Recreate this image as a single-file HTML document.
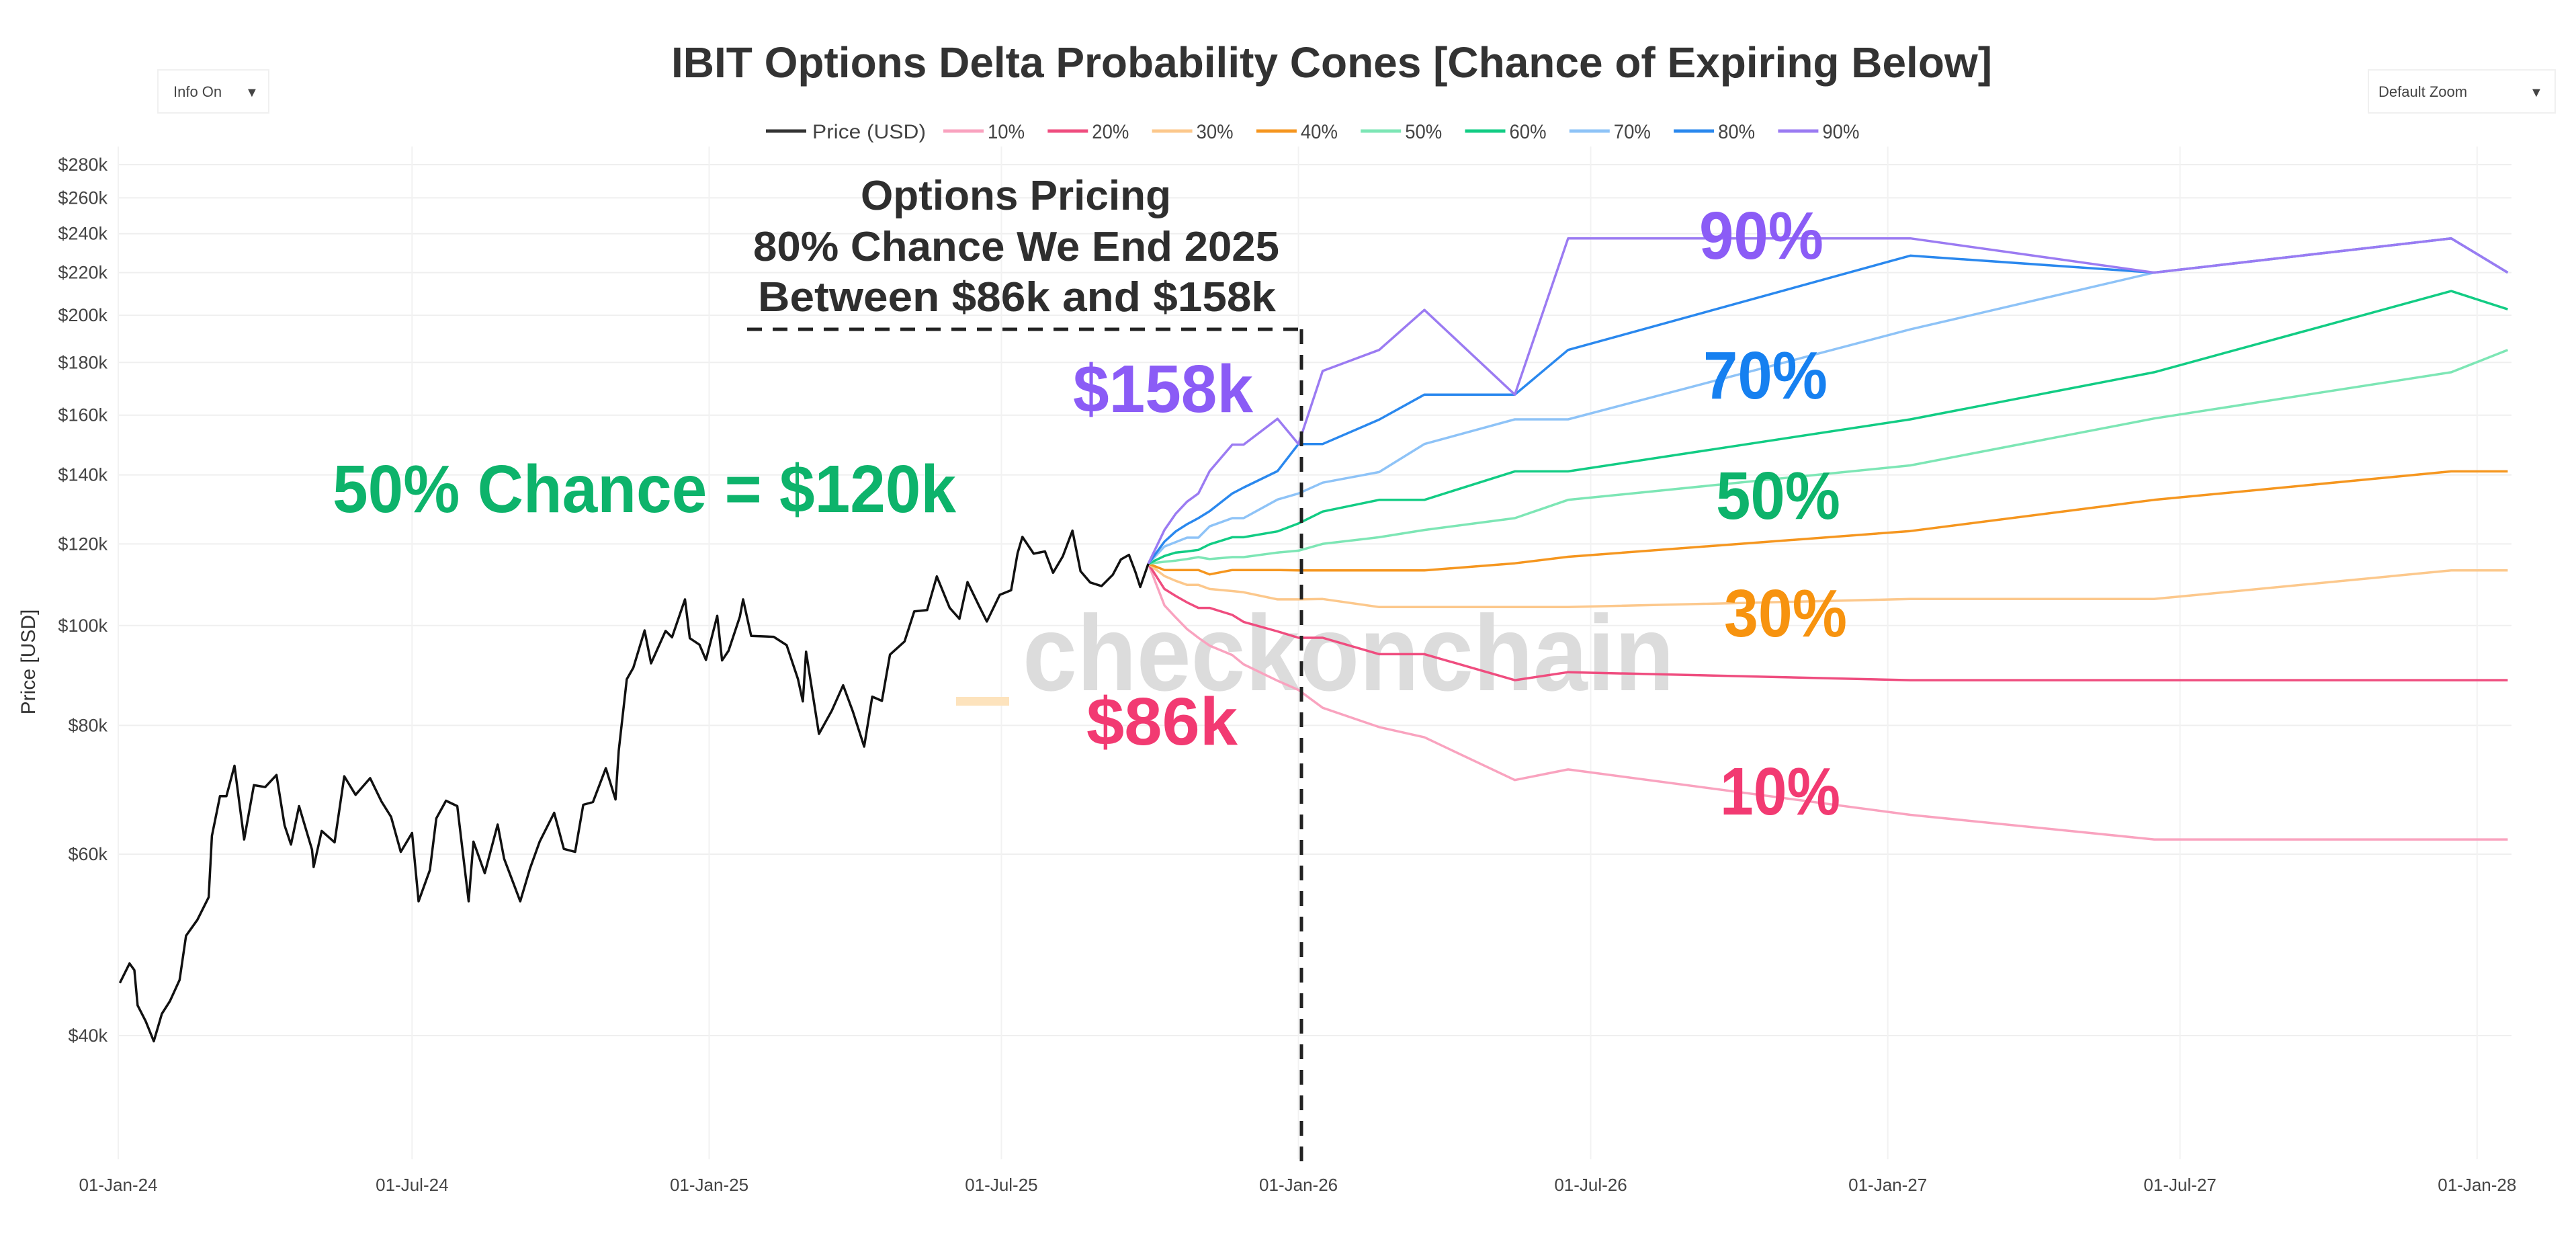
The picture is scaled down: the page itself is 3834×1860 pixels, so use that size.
<!DOCTYPE html>
<html><head><meta charset="utf-8"><title>IBIT Options Delta Probability Cones</title>
<style>
html,body{margin:0;padding:0;background:#fff;}
svg{display:block;font-family:"Liberation Sans",sans-serif;}
</style></head>
<body>
<svg id="chart" width="3834" height="1860" viewBox="0 0 3834 1860" xmlns="http://www.w3.org/2000/svg">
<rect width="3834" height="1860" fill="#fff"/>
<g id="grid"></g>
<g id="yticks"></g>
<g id="xticks"></g>
<text x="1522" y="1027" font-size="160" font-weight="bold" fill="#dcdcdc" textLength="970" lengthAdjust="spacingAndGlyphs">checkonchain</text>
<rect x="1423" y="1037" width="79" height="13" fill="#fde3bd"/>
<g id="series"></g>
<line x1="1112" y1="490" x2="1937" y2="490" stroke="#222" stroke-width="5" stroke-dasharray="22,16"/>
<line x1="1937" y1="490" x2="1937" y2="1744" stroke="#222" stroke-width="5" stroke-dasharray="22,16"/>
<text x="999" y="115" font-size="64" font-weight="bold" fill="#333" textLength="1966" lengthAdjust="spacingAndGlyphs">IBIT Options Delta Probability Cones [Chance of Expiring Below]</text>
<g>
<rect x="235" y="104" width="165" height="64" fill="#fff" stroke="#f0f0f0" stroke-width="2"/>
<text x="258" y="144" font-size="22" fill="#444">Info On</text>
<text x="365" y="144" font-size="20" fill="#444">▼</text>
</g>
<g>
<rect x="3525" y="104" width="278" height="64" fill="#fff" stroke="#f0f0f0" stroke-width="2"/>
<text x="3540" y="144" font-size="22" fill="#444">Default Zoom</text>
<text x="3765" y="144" font-size="20" fill="#444">▼</text>
</g>
<g id="legend"></g>
<text transform="translate(52,985) rotate(-90)" text-anchor="middle" font-size="30" fill="#333">Price [USD]</text>
<g font-weight="bold" fill="#2e2e2e" font-size="62">
<text x="1281" y="312" textLength="462" lengthAdjust="spacingAndGlyphs">Options Pricing</text>
<text x="1121" y="388" textLength="783" lengthAdjust="spacingAndGlyphs">80% Chance We End 2025</text>
<text x="1128" y="463" textLength="771" lengthAdjust="spacingAndGlyphs">Between $86k and $158k</text>
</g>
<text x="1597" y="613" font-size="100" font-weight="bold" fill="#8b5cf6" textLength="268" lengthAdjust="spacingAndGlyphs">$158k</text>
<text x="1617" y="1108" font-size="100" font-weight="bold" fill="#f23a72" textLength="225" lengthAdjust="spacingAndGlyphs">$86k</text>
<text x="495" y="762" font-size="100" font-weight="bold" fill="#0db36b" textLength="928" lengthAdjust="spacingAndGlyphs">50% Chance = $120k</text>
<text x="2529" y="385" font-size="100" font-weight="bold" fill="#8b5cf6" textLength="185" lengthAdjust="spacingAndGlyphs">90%</text>
<text x="2535" y="593" font-size="100" font-weight="bold" fill="#1680f0" textLength="185" lengthAdjust="spacingAndGlyphs">70%</text>
<text x="2554" y="772" font-size="100" font-weight="bold" fill="#0db36b" textLength="185" lengthAdjust="spacingAndGlyphs">50%</text>
<text x="2566" y="947" font-size="100" font-weight="bold" fill="#f7930f" textLength="183" lengthAdjust="spacingAndGlyphs">30%</text>
<text x="2560" y="1212" font-size="100" font-weight="bold" fill="#f23a72" textLength="179" lengthAdjust="spacingAndGlyphs">10%</text>
</svg>
<script>
const yTickValues = [40,60,80,100,120,140,160,180,200,220,240,260,280];
const xTickDates = ["2024-01-01","2024-07-01","2025-01-01","2025-07-01","2026-01-01","2026-07-01","2027-01-01","2027-07-01","2028-01-01"];
const xTickLabels = ["01-Jan-24","01-Jul-24","01-Jan-25","01-Jul-25","01-Jan-26","01-Jul-26","01-Jan-27","01-Jul-27","01-Jan-28"];
const priceDates = ["2024-01-02","2024-01-08","2024-01-11","2024-01-13","2024-01-18","2024-01-23","2024-01-28","2024-02-02","2024-02-08","2024-02-12","2024-02-19","2024-02-26","2024-02-28","2024-03-04","2024-03-08","2024-03-13","2024-03-19","2024-03-25","2024-04-01","2024-04-08","2024-04-13","2024-04-17","2024-04-22","2024-04-30","2024-05-01","2024-05-06","2024-05-14","2024-05-20","2024-05-27","2024-06-05","2024-06-12","2024-06-18","2024-06-24","2024-07-01","2024-07-05","2024-07-12","2024-07-16","2024-07-22","2024-07-29","2024-08-05","2024-08-08","2024-08-15","2024-08-23","2024-08-27","2024-09-06","2024-09-12","2024-09-18","2024-09-27","2024-10-03","2024-10-10","2024-10-15","2024-10-21","2024-10-29","2024-11-04","2024-11-06","2024-11-11","2024-11-15","2024-11-22","2024-11-26","2024-12-05","2024-12-09","2024-12-17","2024-12-20","2024-12-26","2024-12-30","2025-01-06","2025-01-09","2025-01-13","2025-01-20","2025-01-22","2025-01-27","2025-02-03","2025-02-10","2025-02-18","2025-02-25","2025-02-28","2025-03-02","2025-03-10","2025-03-18","2025-03-25","2025-03-31","2025-04-07","2025-04-12","2025-04-18","2025-04-23","2025-05-02","2025-05-08","2025-05-16","2025-05-22","2025-05-30","2025-06-05","2025-06-10","2025-06-17","2025-06-22","2025-06-30","2025-07-07","2025-07-11","2025-07-14","2025-07-21","2025-07-28","2025-08-02","2025-08-08","2025-08-14","2025-08-19","2025-08-25","2025-09-01","2025-09-08","2025-09-13","2025-09-18","2025-09-22","2025-09-25","2025-09-30"];
const priceValues = [45.0,47.0,46.3,42.8,41.3,39.5,42.0,43.2,45.3,50.0,51.8,54.5,62.5,68.3,68.3,73.1,62.0,70.0,69.7,71.6,64.0,61.3,66.8,60.6,58.3,63.2,61.6,71.4,68.5,71.1,67.5,65.2,60.3,62.9,54.0,57.9,65.0,67.6,66.8,54.0,61.7,57.5,64.1,59.4,54.0,58.1,61.7,65.8,60.7,60.3,67.0,67.4,72.7,67.8,75.6,88.7,91.0,98.9,91.9,98.8,97.4,106.0,97.2,95.8,92.6,102.2,92.5,94.5,102.0,106.0,97.7,97.6,97.5,95.7,88.7,84.4,94.3,78.5,82.7,87.5,82.5,76.3,85.3,84.5,93.7,96.5,103.2,103.5,111.6,104.0,101.5,110.2,104.6,100.9,107.1,108.2,117.5,121.9,117.4,118.0,112.5,116.7,123.6,112.9,110.1,109.2,112.0,115.9,117.1,112.7,109.0,114.8];
const coneDates = ["2025-09-30","2025-10-10","2025-10-17","2025-10-24","2025-10-31","2025-11-07","2025-11-21","2025-11-28","2025-12-19","2026-01-01","2026-01-16","2026-02-20","2026-03-20","2026-05-15","2026-06-17","2027-01-15","2027-06-15","2027-12-16","2028-01-20"];
const p10 = [114.8,104.6,101.8,99.2,97.3,95.6,93.6,91.7,88.4,86.6,83.2,79.7,77.9,70.8,72.5,65.5,62.0,62.0,62.0];
const p20 = [114.8,108.5,106.8,105.3,104.0,104.0,102.4,100.8,98.7,97.3,97.3,93.8,93.8,88.5,90.1,88.5,88.5,88.5,88.5];
const p30 = [114.8,111.7,110.5,109.5,109.5,108.5,108.0,107.7,106.0,106.0,106.1,104.2,104.2,104.2,104.2,106.1,106.1,113.1,113.1];
const p40 = [114.8,113.2,113.2,113.2,113.2,112.1,113.2,113.2,113.2,113.1,113.1,113.1,113.1,114.9,116.6,123.5,132.4,141.1,141.1];
const p50 = [114.8,115.3,115.6,116.0,116.5,116.0,116.5,116.5,117.7,118.2,120.0,121.8,123.8,127.1,132.4,143.0,158.8,176.1,185.1];
const p60 = [114.8,116.8,117.7,118.0,118.4,119.9,121.8,121.8,123.4,125.6,129.0,132.4,132.4,141.1,141.1,158.5,176.1,211.1,202.7];
const p70 = [114.8,119.3,120.5,121.7,121.7,124.8,127.1,127.1,132.5,134.3,137.6,140.9,150.0,158.5,158.5,193.8,220.0,237.5,220.0];
const p80 = [114.8,120.6,123.4,125.4,127.1,129.1,134.3,136.1,141.2,150.0,150.0,158.4,167.5,167.5,185.1,228.5,220.0,237.5,220.0];
const p90 = [114.8,123.8,128.4,131.9,134.3,141.2,149.8,149.8,158.7,150.0,176.6,185.1,202.4,167.5,237.5,237.5,220.0,237.5,220.0];
const seriesNames = ["10%","20%","30%","40%","50%","60%","70%","80%","90%"];

const NS = "http://www.w3.org/2000/svg";
const PL = 177, PR = 3738, PT = 218, PB = 1725;
const T0 = Date.UTC(2024,0,1);
function xScale(d){ const p=d.split("-"); const days=(Date.UTC(+p[0],+p[1]-1,+p[2])-T0)/86400000; return 176 + days*2.403; }
function yScale(k){ return 1541 - 666*Math.log(k/40); }
function mk(tag, attrs, parent){ const e=document.createElementNS(NS,tag); for(const k in attrs) e.setAttribute(k,attrs[k]); parent.appendChild(e); return e; }

const grid = document.getElementById("grid");
const yt = document.getElementById("yticks");
yTickValues.forEach(v=>{
  const y=yScale(v);
  const g=mk("line",{x1:PL,x2:PR,y1:y,y2:y,stroke:"#efefef","stroke-width":2},grid);
  
  
  const t=mk("text",{x:160,y:y+9,"text-anchor":"end","font-size":27,fill:"#444"},yt);
  
  
  t.textContent="$"+v+"k";
});
const xt = document.getElementById("xticks");
xTickDates.forEach((d,i)=>{
  const x=xScale(d);
  const g=mk("line",{x1:x,x2:x,y1:PT,y2:PB,stroke:"#f2f2f2","stroke-width":2},grid);
  
  
  const t=mk("text",{x:x,y:1772,"text-anchor":"middle","font-size":26,fill:"#444"},xt);
  
  
  t.textContent=xTickLabels[i];
});

const colors = ["#f9a3bf","#ef4d7f","#fcc88c","#f5961f","#7de6b5","#12cc84","#8ec3f7","#2a88ee","#9b7bf2"];
const series = [p10,p20,p30,p40,p50,p60,p70,p80,p90];
const sg = document.getElementById("series");
series.forEach((vals,i)=>{
  const pts = vals.map((v,j)=>xScale(coneDates[j]).toFixed(1)+","+yScale(v).toFixed(1)).join(" ");
  const pl = mk("polyline",{points:pts,fill:"none",stroke:colors[i],"stroke-width":3.5,"stroke-linejoin":"round"},sg);
  
  
});
const ppts = priceValues.map((v,j)=>xScale(priceDates[j]).toFixed(1)+","+yScale(v).toFixed(1)).join(" ");
const pline = mk("polyline",{points:ppts,fill:"none",stroke:"#111","stroke-width":3.5,"stroke-linejoin":"round"},sg);



const lg = document.getElementById("legend");
const legendItems = [["Price (USD)","#333",1140,1209,169]].concat(seriesNames.map((n,i)=>[n,colors[i],1404+i*155.3,1470+i*155.3,55]));
legendItems.forEach(it=>{
  const g=mk("g",{},lg);
  
  
  mk("line",{x1:it[2],x2:it[2]+60,y1:195,y2:195,stroke:it[1],"stroke-width":5},g);
  const t=mk("text",{x:it[3],y:206,"font-size":30,fill:"#444",textLength:it[4],lengthAdjust:"spacingAndGlyphs"},g);
  t.textContent=it[0];
});
</script>
</body></html>
